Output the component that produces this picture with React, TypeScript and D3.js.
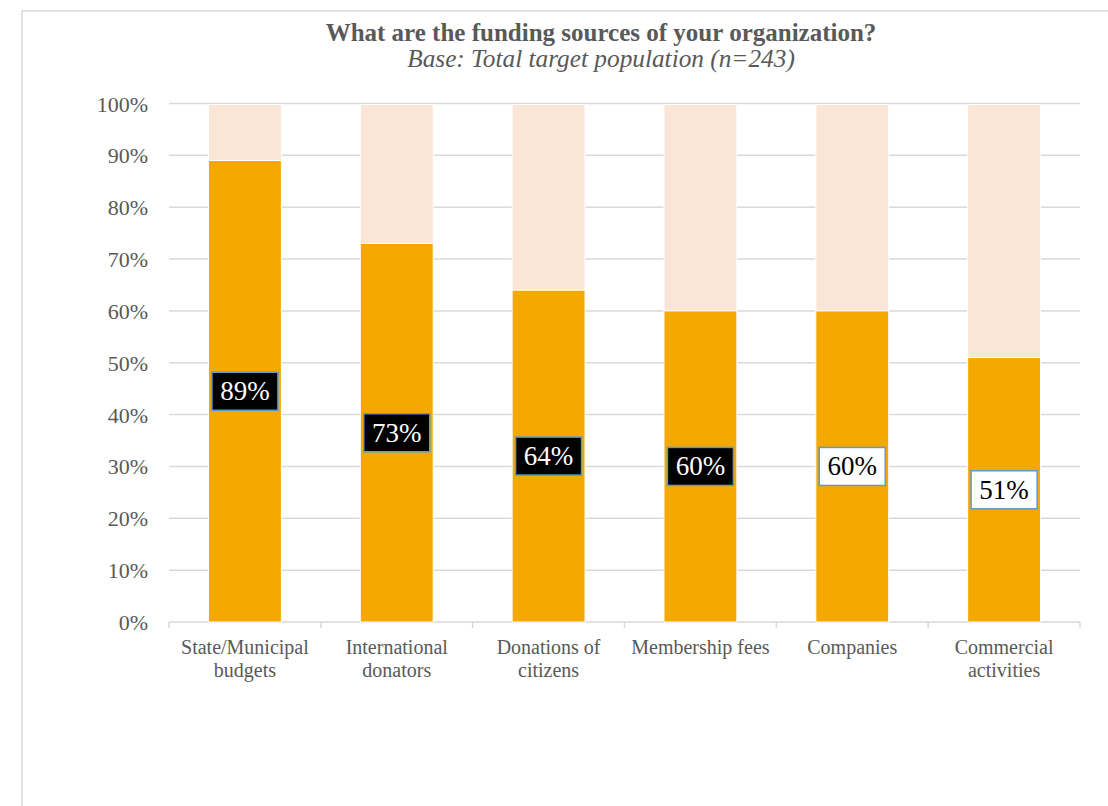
import React from "react";
import * as d3 from "d3";

const categories = [
  ["State/Municipal", "budgets"],
  ["International", "donators"],
  ["Donations of", "citizens"],
  ["Membership fees"],
  ["Companies"],
  ["Commercial", "activities"],
];
const values = [89, 73, 64, 60, 60, 51];
const darkLabels = [true, true, true, true, false, false];
const yTicks = [0, 10, 20, 30, 40, 50, 60, 70, 80, 90, 100];

export default function App() {
  const W = 1108, H = 806;
  const left = 169, right = 1080, top = 103.5, bottom = 622;
  const x = d3.scaleBand<number>().domain(values.map((_, i) => i)).range([left, right]).paddingInner(0.52).paddingOuter(0.26);
  const y = d3.scaleLinear().domain([0, 100]).range([bottom, top]);
  const bw = x.bandwidth();
  const step = (right - left) / values.length;
  const font = "'Liberation Serif', 'Times New Roman', serif";
  return (
    <svg width={W} height={H} style={{ position: "absolute", left: 0, top: 0, background: "#fff" }} fontFamily={font}>
      <rect x={22} y={11} width={1200} height={900} fill="none" stroke="#d9d9d9" strokeWidth={1.5} />
      <text x={601} y={41} textAnchor="middle" fontSize={25} fontWeight="bold" fill="#595959">What are the funding sources of your organization?</text>
      <text x={601} y={67} textAnchor="middle" fontSize={25.3} fontStyle="italic" fill="#595959">Base: Total target population (n=243)</text>
      {yTicks.map((t) => (
        <g key={t}>
          {t > 0 && <line x1={left} x2={right} y1={y(t)} y2={y(t)} stroke="#d9d9d9" strokeWidth={1.5} />}
          <text x={148} y={y(t) + 8} textAnchor="end" fontSize={22} fill="#595959">{t}%</text>
        </g>
      ))}
      <line x1={left} x2={right} y1={bottom} y2={bottom} stroke="#d9d9d9" strokeWidth={1.5} />
      {d3.range(values.length + 1).map((i) => (
        <line key={i} x1={left + i * step} x2={left + i * step} y1={bottom} y2={bottom + 6} stroke="#d9d9d9" strokeWidth={1.5} />
      ))}
      {values.map((v, i) => {
        const x0 = x(i)!;
        return (
          <g key={i}>
            <rect x={x0} y={y(100) + 1} width={bw} height={y(v) - y(100) - 1} fill="#FBE5D6" stroke="#fff" strokeWidth={1} />
            <rect x={x0} y={y(v)} width={bw} height={y(0) - y(v)} fill="#F5A800" stroke="#fff" strokeWidth={1} />
          </g>
        );
      })}
      {values.map((v, i) => {
        const cx = x(i)! + bw / 2;
        const cy = y(v / 2);
        const dark = darkLabels[i];
        return (
          <g key={"l" + i}>
            <rect x={cx - 33} y={cy - 19} width={66} height={38} fill={dark ? "#000" : "#fff"} stroke="#5B9BD5" strokeWidth={1.5} />
            <text x={cx} y={cy + 9} textAnchor="middle" fontSize={27} fill={dark ? "#fff" : "#000"}>{v}%</text>
          </g>
        );
      })}
      {categories.map((lines, i) => (
        <text key={"c" + i} x={x(i)! + bw / 2} textAnchor="middle" fontSize={20} fill="#595959">
          {lines.map((ln, j) => (
            <tspan key={j} x={x(i)! + bw / 2} y={654 + j * 23}>{ln}</tspan>
          ))}
        </text>
      ))}
    </svg>
  );
}
